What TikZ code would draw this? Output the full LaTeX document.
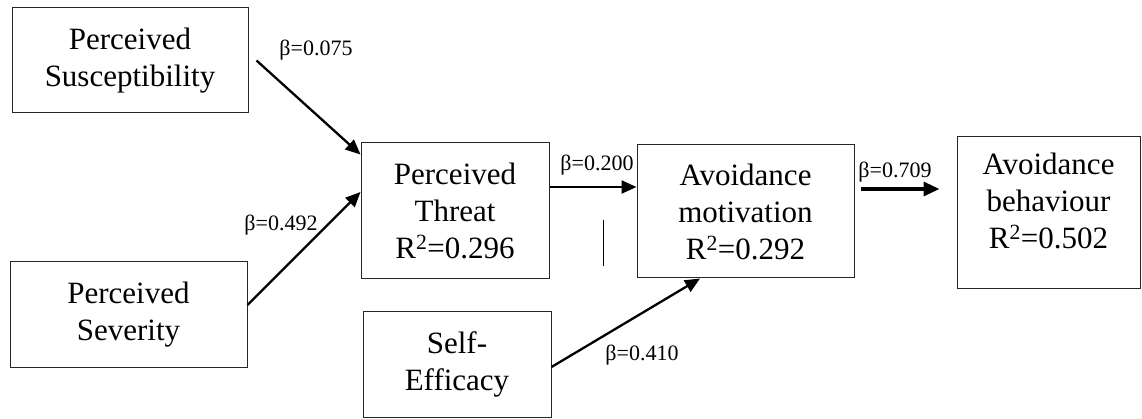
\documentclass[tikz,border=0pt]{standalone}
\usepackage{fontspec}
\setmainfont{Liberation Serif}
\usetikzlibrary{arrows.meta,calc}
\begin{document}
\begin{tikzpicture}[x=1pt,y=-1pt,
  box/.style={draw=black!85,line width=1pt,inner sep=0pt,align=center,font=\fontsize{31}{37}\selectfont},
  boxtext/.style={inner sep=0pt,align=center,font=\fontsize{31}{37}\selectfont},
  coef/.style={inner sep=0pt,font=\fontsize{22}{24}\selectfont},
  arr/.style={line width=2.3pt,-{Triangle[length=15pt,width=13pt]}},
  arrbig/.style={line width=3.2pt,-{Triangle[length=16pt,width=14pt]}}]
\useasboundingbox (0,0) rectangle (1142,419);
\node[box,minimum width=236pt,minimum height=105pt] (sus) at (130,60.5) {Perceived\\Susceptibility};
\node[box,minimum width=237pt,minimum height=105pt] (sev) at (128.5,314.5) {Perceived\\Severity};
\node[box,minimum width=188pt,minimum height=136pt] (thr) at (455,211) {Perceived\\Threat\\R\textsuperscript{2}=0.296};
\node[box,minimum width=217pt,minimum height=133pt] (mot) at (745.5,211.5) {Avoidance\\motivation\\R\textsuperscript{2}=0.292};
\node[box,minimum width=183pt,minimum height=152pt] (beh) at (1048.5,213) {};
\node[boxtext] (behtext) at (1048.5,201) {Avoidance\\behaviour\\R\textsuperscript{2}=0.502};
\node[box,minimum width=188pt,minimum height=105pt] (eff) at (457,364.5) {Self-\\Efficacy};
\draw[arr] ($(sus.east)+(8,0)$) -- ($(thr.north west)+(0,12)$);
\draw[arr] ($(sev.east)+(0,-9.5)$) -- ($(thr.west)+(0,-19)$);
\draw[arr] ($(thr.east)+(0,-24)$) -- ($(mot.west)+(0,-24.5)$);
\draw[arr] ($(eff.east)+(0,2.5)$) -- ($(mot.south)+(-45.5,0)$);
\draw[arrbig] ($(mot.east)+(6,-22.5)$) -- ($(beh.west)+(-17,-24)$);
\draw[line width=1pt] (603,220) -- (603,266);
\node[coef] (c1) at (316,50) {β=0.075};
\node[coef] (c2) at (281,225) {β=0.492};
\node[coef] (c3) at (597,165) {β=0.200};
\node[coef] (c4) at (642,355) {β=0.410};
\node[coef] (c5) at (895,172) {β=0.709};
\end{tikzpicture}
\end{document}
